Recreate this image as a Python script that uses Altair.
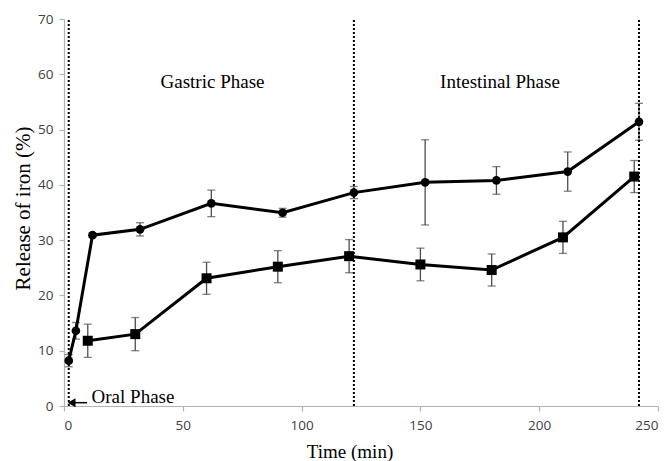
import altair as alt
import pandas as pd

# ---- data ----
circle_t = [2, 5, 12, 32, 62, 92, 122, 152, 182, 212, 242]
circle_y = [8.2, 13.6, 30.9, 31.95, 36.65, 34.95, 38.6, 40.45, 40.8, 42.4, 51.4]
circle_err = [1.1, 1.5, 0.4, 1.2, 2.4, 0.8, 1.1, 7.7, 2.5, 3.55, 3.35]

square_t = [10, 30, 60, 90, 120, 150, 180, 210, 240]
square_y = [11.8, 13.0, 23.1, 25.2, 27.1, 25.6, 24.6, 30.5, 41.5]
square_err = [3.0, 3.0, 2.9, 2.9, 3.0, 2.95, 2.9, 2.9, 2.9]

phase_t = [2, 122, 242]
phase_lo = [0, 0, 0]
phase_hi = [70, 70, 70]

phase_labels = ["Gastric Phase", "Intestinal Phase"]
phase_label_t = [62.5, 183.5]
phase_label_y = [58.6, 58.6]

oral_label = ["Oral Phase"]
oral_label_t = [11.6]
oral_label_y = [1.7]
arrow_t = [4.2]
arrow_t2 = [9.7]
arrow_y = [0.6]
arrow_head_t = [3.2]

x_ticks = [0, 50, 100, 150, 200, 250]
y_ticks = [0, 10, 20, 30, 40, 50, 60, 70]

# ---- tables ----
df = pd.concat([
    pd.DataFrame({"t": circle_t, "v": circle_y, "err": circle_err, "series": "circle"}),
    pd.DataFrame({"t": square_t, "v": square_y, "err": square_err, "series": "square"}),
], ignore_index=True)
df["lo"] = df["v"] - df["err"]
df["hi"] = df["v"] + df["err"]

caps = pd.concat([
    pd.DataFrame({"t": df["t"], "v": df["lo"]}),
    pd.DataFrame({"t": df["t"], "v": df["hi"]}),
], ignore_index=True)

phases = pd.DataFrame({"t": phase_t, "lo": phase_lo, "hi": phase_hi})
labels = pd.DataFrame({"t": phase_label_t, "v": phase_label_y, "txt": phase_labels})
oral = pd.DataFrame({"t": oral_label_t, "v": oral_label_y, "txt": oral_label})
arrow = pd.DataFrame({"t": arrow_t, "t2": arrow_t2, "v": arrow_y, "th": arrow_head_t})

W, H = 594, 387

xscale = alt.Scale(domain=[0, 250], nice=False)
yscale = alt.Scale(domain=[0, 70], nice=False)

X = alt.X("t:Q", scale=xscale, axis=alt.Axis(
    values=x_ticks, title="Time (min)", titleX=285.5, titleY=45.7,
    titleBaseline="middle", titleAlign="center"))
Y = alt.Y("v:Q", scale=yscale, axis=alt.Axis(
    values=y_ticks, title="Release of iron (%)", titleX=-41, titleY=189,
    titleAngle=270, titleBaseline="middle", titleAlign="center",
    titleFontSize=21))

ERR = "#4d4d4d"

err_rules = alt.Chart(df).mark_rule(color=ERR, strokeWidth=1.3).encode(
    x=X, y=alt.Y("lo:Q", scale=yscale), y2="hi:Q")
err_caps = alt.Chart(caps).mark_tick(orient="horizontal", size=8, thickness=1.3,
                                     color=ERR).encode(x=X, y=Y)

lines = alt.Chart(df).mark_line(color="black", strokeWidth=3).encode(
    x=X, y=Y, detail="series:N")

circles = alt.Chart(df).transform_filter(alt.datum.series == "circle").mark_point(
    shape="circle", filled=True, size=75, color="black", opacity=1).encode(x=X, y=Y)
squares = alt.Chart(df).transform_filter(alt.datum.series == "square").mark_point(
    shape="square", filled=True, size=100, color="black", opacity=1).encode(x=X, y=Y)

phase_rules = alt.Chart(phases).mark_rule(
    color="black", strokeWidth=2, strokeDash=[2, 2]).encode(
    x=X, y=alt.Y("lo:Q", scale=yscale), y2="hi:Q")

phase_text = alt.Chart(labels).mark_text(
    font="Liberation Serif", fontSize=19, color="black", align="center",
    baseline="middle").encode(x=X, y=Y, text="txt:N")

oral_text = alt.Chart(oral).mark_text(
    font="Liberation Serif", fontSize=19, color="black", align="left",
    baseline="middle").encode(x=X, y=Y, text="txt:N")

arrow_line = alt.Chart(arrow).mark_rule(color="black", strokeWidth=1.5).encode(
    x=X, x2="t2:Q", y=Y)
arrow_head = alt.Chart(arrow).mark_point(
    shape="triangle-left", filled=True, size=80, color="black", opacity=1).encode(
    x=alt.X("th:Q", scale=xscale), y=Y)

chart = alt.layer(
    err_rules, err_caps, lines, circles, squares, phase_rules,
    phase_text, oral_text, arrow_line, arrow_head
).properties(
    width=W, height=H,
    autosize=alt.AutoSizeParams(type="none"),
    padding={"left": 56, "top": 11, "right": 3, "bottom": 55},
).configure_view(stroke=None).configure_axis(
    grid=False,
    domainColor="#b3b3b3", domainWidth=1.2,
    tickColor="#b3b3b3", tickWidth=1.2, tickSize=5,
    labelFont="Open Sans", labelFontSize=13.5, labelColor="#404040",
    titleFont="Liberation Serif", titleFontSize=19, titleColor="black",
    titleFontWeight="normal",
).configure_axisX(labelPadding=7).configure_axisY(labelPadding=6)

chart.save("out.html", embed_options={"renderer": "svg", "actions": False})
